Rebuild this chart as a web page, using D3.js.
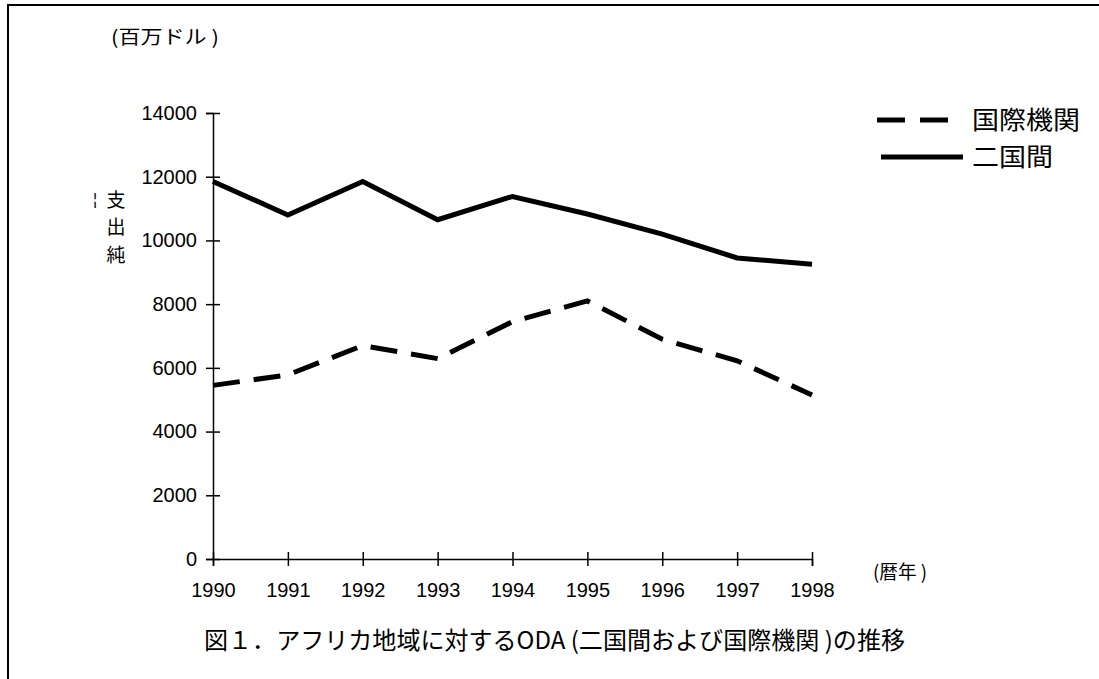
<!DOCTYPE html>
<html><head><meta charset="utf-8">
<script src="https://cdn.jsdelivr.net/npm/d3@7/dist/d3.min.js"></script>
<style>
body{margin:0;background:#fff;}
text{font-family:"Liberation Sans","Noto Sans CJK JP",sans-serif;fill:#000;}
.jp{font-family:"Noto Sans CJK JP","Liberation Sans",sans-serif;}
</style></head>
<body>
<svg id="c" width="1099" height="679"></svg>
<script>
const years = [1990,1991,1992,1993,1994,1995,1996,1997,1998];
const bilateral = [11850,10800,11850,10650,11380,10830,10200,9450,9250];
const multilateral = [5450,5780,6700,6290,7450,8100,6900,6220,5150];
const yTicks = [0,2000,4000,6000,8000,10000,12000,14000];
const seriesNames = ["国際機関","二国間"];
const caption = "図１．アフリカ地域に対するODA (二国間および国際機関 )の推移";

const svg = d3.select("#c");
// frame
svg.append("rect").attr("x",8).attr("y",5).attr("width",1200).attr("height",800)
  .attr("fill","none").attr("stroke","#000").attr("stroke-width",2);

const x = d3.scaleLinear().domain([1990,1998]).range([213,812]);
const y = d3.scaleLinear().domain([0,14000]).range([559,113]);

// y axis
const ya = svg.append("g").attr("transform","translate(213,0)")
  .call(d3.axisLeft(y).tickValues(yTicks).tickFormat(d3.format("d")).tickSizeOuter(0).tickSize(7));
ya.select(".domain").attr("stroke","#000").attr("stroke-width",1.5);
ya.selectAll(".tick line").attr("x1",-7).attr("x2",7).attr("stroke","#000").attr("stroke-width",1.5);
ya.selectAll(".tick text").attr("x",-16).attr("fill","#000")
  .style("font-size","20px").style("font-family","'Liberation Sans',sans-serif");

// x axis
const xa = svg.append("g").attr("transform","translate(0,559)")
  .call(d3.axisBottom(x).tickValues(years).tickFormat(d3.format("d")).tickSizeOuter(0).tickSize(7));
xa.select(".domain").attr("stroke","#000").attr("stroke-width",1.5);
xa.selectAll(".tick line").attr("y1",-7).attr("y2",7).attr("stroke","#000").attr("stroke-width",1.5);
xa.selectAll(".tick text").attr("y",38).attr("dy",null).attr("fill","#000")
  .style("font-size","20px").style("font-family","'Liberation Sans',sans-serif");

const line = d3.line().x((d,i)=>x(years[i])).y(d=>y(d));

svg.append("path").datum(bilateral).attr("d",line)
  .attr("fill","none").attr("stroke","#000").attr("stroke-width",5).attr("stroke-linejoin","miter");
svg.append("path").datum(multilateral).attr("d",line)
  .attr("fill","none").attr("stroke","#000").attr("stroke-width",5)
  .attr("stroke-dasharray","27,14");

// legend
svg.append("line").attr("x1",877).attr("x2",948).attr("y1",120).attr("y2",120)
  .attr("stroke","#000").attr("stroke-width",5).attr("stroke-dasharray","28,15");
svg.append("line").attr("x1",881).attr("x2",963).attr("y1",157).attr("y2",157)
  .attr("stroke","#000").attr("stroke-width",5);
svg.append("text").attr("class","jp").attr("x",972).attr("y",120).attr("dy","0.36em")
  .attr("font-size",25).attr("textLength",108).attr("lengthAdjust","spacingAndGlyphs").text(seriesNames[0]);
svg.append("text").attr("class","jp").attr("x",972).attr("y",157).attr("dy","0.36em")
  .attr("font-size",25).attr("textLength",81).attr("lengthAdjust","spacingAndGlyphs").text(seriesNames[1]);

// unit label
svg.append("text").attr("class","jp").attr("x",111).attr("y",37).attr("dy","0.36em")
  .attr("font-size",19).attr("textLength",108).attr("lengthAdjust","spacingAndGlyphs").text("(百万ドル )");
// axis title
svg.append("text").attr("x",95).attr("y",199).attr("dy","0.36em")
  .attr("font-size",16).attr("text-anchor","middle").text("¦");
["支","出","純"].forEach((ch,i)=>{
  svg.append("text").attr("class","jp").attr("x",116).attr("y",200+i*27.5).attr("dy","0.36em")
    .attr("font-size",19).attr("text-anchor","middle").text(ch);
});
svg.append("text").attr("class","jp").attr("x",873).attr("y",572).attr("dy","0.36em")
  .attr("font-size",19).attr("textLength",54).attr("lengthAdjust","spacingAndGlyphs").text("(暦年 )");

svg.append("text").attr("class","jp").attr("x",204).attr("y",640).attr("dy","0.36em")
  .attr("font-size",24).attr("textLength",701).attr("lengthAdjust","spacingAndGlyphs").text(caption);
</script>
</body></html>
